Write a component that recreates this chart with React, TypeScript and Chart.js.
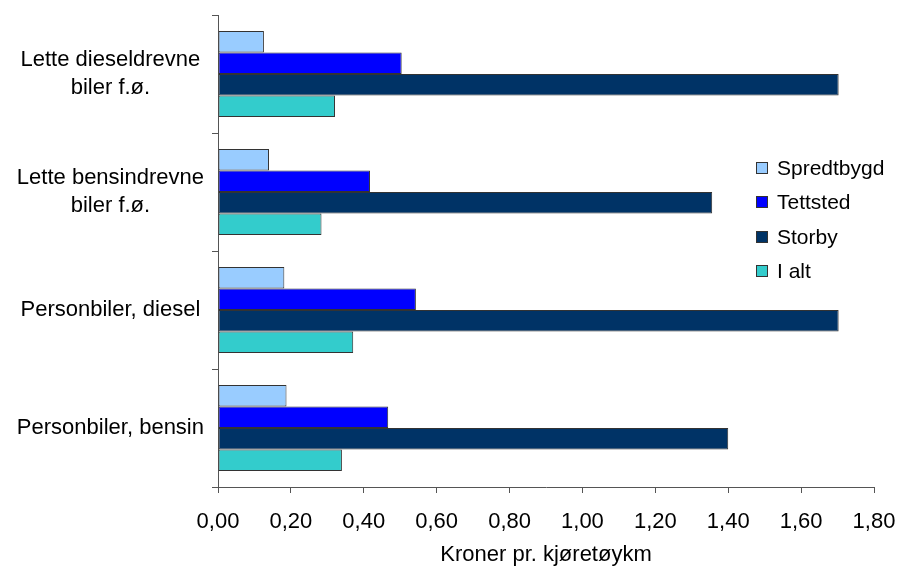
import React, { useEffect, useRef } from "react";
import { Chart, registerables } from "chart.js";

Chart.register(...registerables);

const categories: (string | string[])[] = [
  ["Lette dieseldrevne", "biler f.ø."],
  ["Lette bensindrevne", "biler f.ø."],
  "Personbiler, diesel",
  "Personbiler, bensin",
];
const seriesNames = ["Spredtbygd", "Tettsted", "Storby", "I alt"];
const spredtbygd = [0.126, 0.14, 0.182, 0.188];
const tettsted = [0.504, 0.417, 0.543, 0.467];
const storby = [1.703, 1.356, 1.703, 1.4];
const iAlt = [0.321, 0.284, 0.371, 0.34];
const seriesColors = ["#99CCFF", "#0000FF", "#003366", "#33CCCC"];
const xAxisTitle = "Kroner pr. kjøretøykm";
const xMin = 0;
const xMax = 1.8;
const xStep = 0.2;

const FONT = "'Liberation Sans', Arial, Helvetica, sans-serif";

const insideLegend = {
  id: "insideLegend",
  afterDraw(chart: any) {
    const { ctx, chartArea } = chart;
    const x0 = chartArea.right - 118;
    const y0 = chartArea.top + 153;
    const gap = 34.3;
    ctx.save();
    ctx.font = `21px ${FONT}`;
    ctx.textBaseline = "middle";
    ctx.textAlign = "left";
    chart.data.datasets.forEach((ds: any, i: number) => {
      const cy = Math.round(y0 + i * gap);
      ctx.fillStyle = ds.backgroundColor;
      ctx.fillRect(x0, cy - 6, 12, 12);
      ctx.strokeStyle = "#333333";
      ctx.lineWidth = 1;
      ctx.strokeRect(x0 + 0.5, cy - 5.5, 11, 11);
      ctx.fillStyle = "#000000";
      ctx.fillText(ds.label, x0 + 21, cy + 1);
    });
    ctx.restore();
  },
};

export default function App() {
  const ref = useRef<HTMLCanvasElement | null>(null);

  useEffect(() => {
    if (!ref.current) return;
    const seriesValues = [spredtbygd, tettsted, storby, iAlt];
    const chart = new Chart(ref.current, {
      type: "bar",
      data: {
        labels: categories,
        datasets: seriesNames.map((name, i) => ({
          label: name,
          data: seriesValues[i],
          backgroundColor: seriesColors[i],
          borderColor: "#333333",
          borderWidth: 1,
          borderSkipped: false,
          categoryPercentage: 0.73,
          barPercentage: 1.0,
        })),
      },
      options: {
        indexAxis: "y",
        animation: false,
        responsive: false,
        devicePixelRatio: 1,
        layout: { padding: { top: 15, right: 24, left: 0, bottom: 0 } },
        plugins: {
          legend: { display: false },
          tooltip: { enabled: false },
          title: { display: false },
        },
        scales: {
          y: {
            type: "category",
            offset: true,
            grid: {
              offset: true,
              drawOnChartArea: false,
              drawTicks: true,
              tickLength: 6,
              color: "#555555",
            },
            border: { color: "#555555", width: 1 },
            ticks: {
              crossAlign: "center",
              padding: 8,
              color: "#000000",
              font: { family: FONT, size: 22, lineHeight: 1.27 },
            },
            afterFit: (s: any) => {
              s.width = 218;
              s.paddingTop = 0;
              s.paddingBottom = 0;
              s.paddingLeft = 0;
              s.paddingRight = 0;
            },
          },
          x: {
            type: "linear",
            min: xMin,
            max: xMax,
            grid: {
              drawOnChartArea: false,
              drawTicks: true,
              tickLength: 6,
              color: "#555555",
            },
            border: { color: "#555555", width: 1 },
            ticks: {
              stepSize: xStep,
              padding: 16,
              color: "#000000",
              font: { family: FONT, size: 22, lineHeight: 1.2 },
              callback: (v: any) => Number(v).toFixed(2).replace(".", ","),
            },
            title: {
              display: true,
              text: xAxisTitle,
              color: "#000000",
              font: { family: FONT, size: 22, lineHeight: 1.2 },
              padding: { top: 0, bottom: 2 },
            },
            afterFit: (s: any) => {
              s.height = 83;
              s.paddingTop = 0;
              s.paddingBottom = 0;
              s.paddingLeft = 0;
              s.paddingRight = 0;
            },
          },
        },
      },
      plugins: [insideLegend],
    });
    return () => chart.destroy();
  }, []);

  return (
    <div style={{ position: "absolute", left: 0, top: 0, width: 898, height: 570, background: "#ffffff" }}>
      <canvas ref={ref} width={898} height={570} style={{ display: "block", width: 898, height: 570 }} />
    </div>
  );
}
